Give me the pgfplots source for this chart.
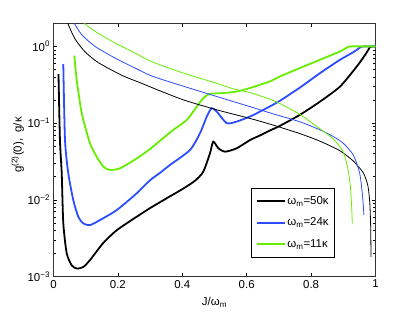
\documentclass[border=0pt]{standalone}
\usepackage{fontspec}
\setmainfont{Liberation Sans}
\usepackage{pgfplots}
\pgfplotsset{compat=1.18}
\definecolor{cblue}{rgb}{0.17,0.3,1}
\definecolor{cgreen}{rgb}{0.4,0.93,0}
\begin{document}
\begin{tikzpicture}
\begin{axis}[
  at={(0,0)}, anchor=south west,
  scale only axis,
  width=322bp, height=253.2bp,
  ymode=log,
  xmin=0, xmax=1, ymin=1e-3, ymax=2,
  xtick={0,0.2,0.4,0.6,0.8,1},
  xticklabels={0,0.2,0.4,0.6,0.8,1},
  ytick={0.001,0.01,0.1,1},
  yticklabels={10\textsuperscript{−3},10\textsuperscript{−2},10\textsuperscript{−1},10\textsuperscript{0}},
  minor ytick={0.002,0.003,0.004,0.005,0.006,0.007,0.008,0.009,0.02,0.03,0.04,0.05,0.06,0.07,0.08,0.09,0.2,0.3,0.4,0.5,0.6,0.7,0.8,0.9,2},
  tick align=inside,
  major tick length=4bp, minor tick length=2.2bp,
  every tick/.style={black, line width=0.5pt},
  axis line style={line width=0.6pt, black!80},
  tick label style={font=\fontsize{11.5}{13}\selectfont},
  label style={font=\fontsize{11.5}{13}\selectfont},
  xlabel={J/ω\textsubscript{m}},
  ylabel={g\textsuperscript{(2)}(0),\ \ g/κ},
  xlabel style={at={(0.5,0)}, anchor=north, yshift=-17bp},
  ylabel style={at={(0,0.52)}, anchor=south, yshift=26bp},
  legend style={at={(0.874,0.077)}, anchor=south east, draw=black, fill=white,
    font=\fontsize{11.5}{13}\selectfont, row sep=8bp, inner xsep=4bp, inner ysep=6bp,
    line width=0.5pt},
  legend cell align=left,
  legend image code/.code={\draw[#1, line width=1.8pt] (0bp,0bp) -- (28bp,0bp);},
  clip=true,
]
% thick g2 curves
\addplot[black, line width=1.8pt, smooth, tension=0.4] coordinates {
(0.0155,0.436) (0.020,0.0603) (0.0255,0.0223) (0.0304,0.00496) (0.041,0.00201)
(0.0565,0.00140) (0.072,0.00127) (0.0925,0.00133) (0.113,0.00163) (0.155,0.00275)
(0.196,0.00400) (0.247,0.0056) (0.30,0.0078) (0.352,0.0105) (0.403,0.0140)
(0.440,0.0178) (0.465,0.0232) (0.486,0.0404) (0.496,0.0573) (0.512,0.047)
(0.533,0.0424) (0.569,0.047) (0.610,0.0600) (0.641,0.0690) (0.672,0.0800)
(0.703,0.092) (0.765,0.128) (0.828,0.191) (0.890,0.300) (0.942,0.548)
(0.970,0.80) (0.983,0.98) (0.990,1.0) (1.0,1.0)};
\addlegendentry{ω\textsubscript{m}=50κ}
\addplot[cblue, line width=1.8pt, smooth, tension=0.4] coordinates {
(0.0304,0.589) (0.0357,0.0603) (0.046,0.0221) (0.0615,0.0099) (0.077,0.0060)
(0.0925,0.00492) (0.113,0.00467) (0.144,0.00543) (0.196,0.00733) (0.258,0.0121)
(0.30,0.0180) (0.331,0.0225) (0.362,0.0285) (0.424,0.0446) (0.455,0.0738)
(0.476,0.1216) (0.491,0.1565) (0.507,0.141) (0.538,0.0997) (0.569,0.1047)
(0.610,0.1216) (0.641,0.141) (0.672,0.165) (0.703,0.195) (0.765,0.290)
(0.828,0.449) (0.890,0.670) (0.931,0.84) (0.955,0.985) (0.965,1.0) (1.0,1.0)};
\addlegendentry{ω\textsubscript{m}=24κ}
\addplot[cgreen, line width=1.8pt, smooth, tension=0.4] coordinates {
(0.0646,0.756) (0.072,0.367) (0.0876,0.135) (0.113,0.0551) (0.134,0.0365)
(0.155,0.027) (0.175,0.0245) (0.2065,0.0257) (0.258,0.0345) (0.30,0.0460)
(0.331,0.0590) (0.372,0.0815) (0.414,0.110) (0.445,0.164) (0.465,0.211)
(0.486,0.241) (0.527,0.246) (0.569,0.258) (0.610,0.286) (0.641,0.316)
(0.672,0.349) (0.703,0.405) (0.765,0.522) (0.828,0.670) (0.890,0.861)
(0.915,0.985) (0.925,1.0) (1.0,1.0)};
\addlegendentry{ω\textsubscript{m}=11κ}
% thin g/kappa curves
\addplot[black, line width=0.8pt, smooth, tension=0.4, forget plot] coordinates {
(0.0441,2.0) (0.0668,1.25) (0.0978,0.85) (0.139,0.615) (0.212,0.42) (0.274,0.33)
(0.306,0.29) (0.403,0.201) (0.507,0.149) (0.610,0.115) (0.672,0.097)
(0.765,0.073) (0.828,0.058) (0.890,0.0435) (0.931,0.032) (0.962,0.0225)
(0.976,0.0155) (0.982,0.0095) (0.985,0.0045) (0.986,0.0018)};
\addplot[cblue, line width=0.8pt, smooth, tension=0.4, forget plot] coordinates {
(0.0646,2.0) (0.0876,1.42) (0.129,1.0) (0.191,0.705) (0.253,0.522) (0.306,0.41)
(0.403,0.303) (0.507,0.222) (0.610,0.164) (0.672,0.136) (0.765,0.104) (0.828,0.0815)
(0.869,0.0667) (0.900,0.0546) (0.931,0.0384) (0.951,0.0221) (0.960,0.0109)
(0.964,0.0063)};
\addplot[cgreen, line width=0.8pt, smooth, tension=0.4, forget plot] coordinates {
(0.0957,2.0) (0.129,1.57) (0.191,1.108) (0.253,0.82) (0.306,0.63) (0.403,0.449)
(0.507,0.33) (0.558,0.28) (0.610,0.25) (0.672,0.205) (0.703,0.18) (0.765,0.13)
(0.828,0.084) (0.869,0.0621) (0.900,0.042) (0.915,0.0245) (0.922,0.0148)
(0.926,0.0081) (0.928,0.0048)};
\end{axis}
\pgfresetboundingbox
\path (-53.5bp,-36.5bp) rectangle (361.5bp,276.5bp);
\end{tikzpicture}
\end{document}
